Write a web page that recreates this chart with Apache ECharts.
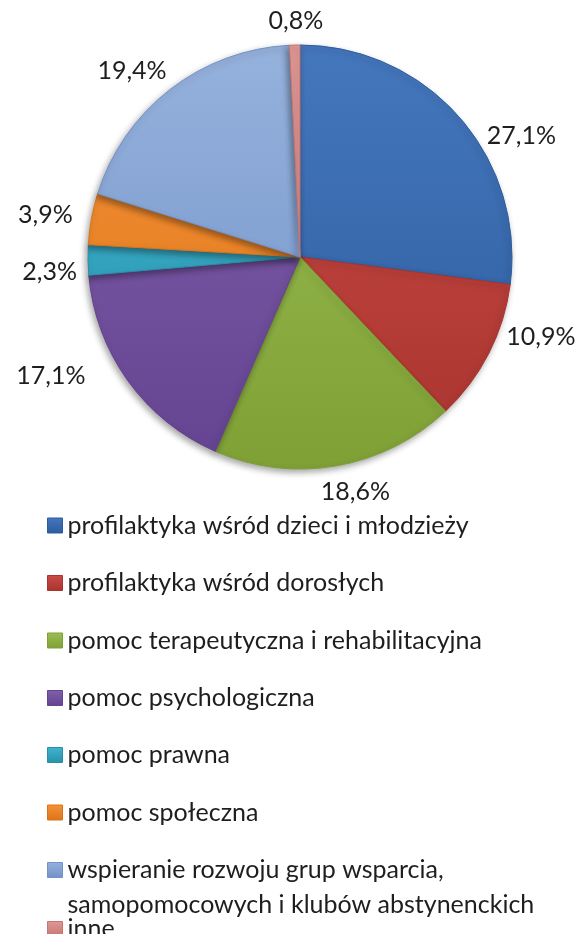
<!DOCTYPE html>
<html>
<head>
<meta charset="utf-8">
<script src="https://cdn.jsdelivr.net/npm/echarts@6/dist/echarts.min.js"></script>
<style>
  html, body { margin: 0; padding: 0; background: #fff; }
  #chart { width: 576px; height: 934px; }
</style>
</head>
<body>
<div id="chart"></div>
<script>
// Categories and shares (percent)
const categories = [
  'profilaktyka wśród dzieci i młodzieży',
  'profilaktyka wśród dorosłych',
  'pomoc terapeutyczna i rehabilitacyjna',
  'pomoc psychologiczna',
  'pomoc prawna',
  'pomoc społeczna',
  'wspieranie rozwoju grup wsparcia,\nsamopomocowych i klubów abstynenckich',
  'inne'
];
const shares = [27.1, 10.9, 18.6, 17.1, 2.3, 3.9, 19.4, 0.8];

// Light / dark shade pairs per slice
const lightColors = ['#4577bd', '#cc4a45', '#9cbf55', '#8060aa', '#3fb5d0', '#f6923a', '#95b2dd', '#e09896'];
const darkColors  = ['#2c5c9e', '#a8342f', '#7ea035', '#644391', '#2890ab', '#dc7416', '#7291c6', '#c57572'];

// Small offsets that move each percentage label into its place around the pie
const labelNudge = [[12, 28], [0, -23], [-23, 12], [-26, -13], [8, 12], [0, -1], [10, -7], [34, -10]];

// Vertical centre of each legend row
const legendRowCenters = [525.5, 583, 640.5, 698, 755, 812.5, 870, 929];

const FONT = 'Lato, "Open Sans", sans-serif';
const FS = 25;

function keyGradient(i) {
  return new echarts.graphic.LinearGradient(0, 0, 0, 1, [
    { offset: 0, color: lightColors[i] },
    { offset: 1, color: darkColors[i] }
  ]);
}

const pieData = categories.map((name, i) => ({
  name: name,
  value: shares[i],
  itemStyle: {
    color: new echarts.graphic.LinearGradient(0, 45, 0, 470, [
      { offset: 0, color: lightColors[i] },
      { offset: 1, color: darkColors[i] }
    ], true),
    borderColor: darkColors[i],
    borderWidth: 1
  }
}));

// One legend block per row so the wrapped entry keeps its own spacing
const legends = categories.map((name, i) => {
  const wrapped = name.indexOf('\n') >= 0;
  const lh = wrapped ? 35 : 30;
  // the wrapped entry gets a blank first line so its key sits beside the first text line
  const lines = wrapped ? 3 : 1;
  return {
    data: [{ name: name, itemStyle: { color: keyGradient(i), borderColor: darkColors[i], borderWidth: 1 } }],
    formatter: wrapped ? (n => ' \n' + n) : undefined,
    left: 47,
    top: legendRowCenters[i] - lh * lines / 2,
    padding: 0,
    orient: 'vertical',
    itemWidth: 15,
    itemHeight: 15,
    itemGap: 0,
    icon: 'rect',
    selectedMode: false,
    textStyle: {
      fontFamily: FONT,
      fontSize: FS,
      color: '#1e1e1e',
      lineHeight: lh
    }
  };
});

const chart = echarts.init(document.getElementById('chart'), null, { renderer: 'canvas' });
chart.setOption({
  animation: false,
  backgroundColor: '#fff',
  legend: legends,
  series: [{
    type: 'pie',
    center: [300, 257],
    radius: 212,
    startAngle: 90,
    clockwise: true,
    avoidLabelOverlap: false,
    data: pieData,
    itemStyle: {
      shadowBlur: 6,
      shadowOffsetX: -2,
      shadowOffsetY: 3,
      shadowColor: 'rgba(0,0,0,0.35)'
    },
    label: {
      show: true,
      position: 'outside',
      formatter: p => p.value.toFixed(1).replace('.', ',') + '%',
      fontFamily: FONT,
      fontSize: FS,
      color: '#1e1e1e'
    },
    labelLine: { show: false, length: 14, length2: 0 },
    labelLayout: p => ({ dx: labelNudge[p.dataIndex][0], dy: labelNudge[p.dataIndex][1] }),
    emphasis: { disabled: true }
  }]
});
</script>
</body>
</html>
